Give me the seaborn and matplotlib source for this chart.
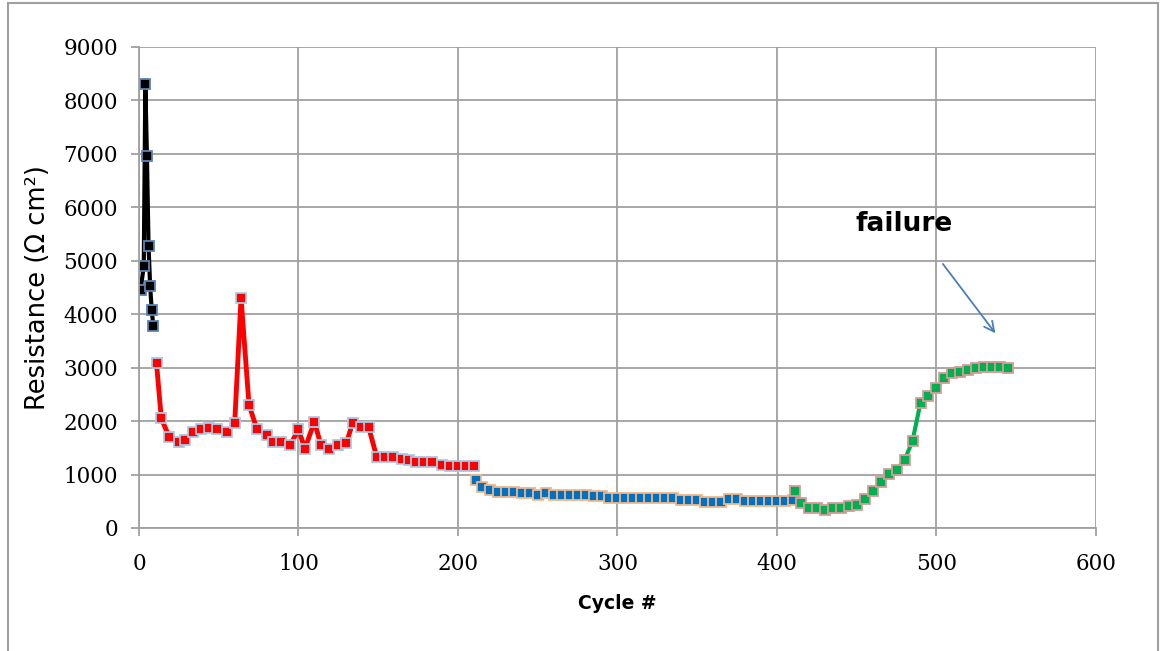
import numpy as np
import pandas as pd
import matplotlib
matplotlib.use('Agg')
import matplotlib.pyplot as plt
import seaborn as sns
from matplotlib.patches import Rectangle


# data
black_x = [1, 3, 4, 5, 6, 7, 8, 9]
black_y = [4450, 4900, 8300, 6950, 5280, 4520, 4080, 3770]

red_x = [11, 14, 19, 25, 29, 34, 39, 44, 49, 55, 60, 64, 69, 74, 80, 84, 89, 95, 100, 104,
         110, 114, 119, 125, 130, 134, 139, 144, 149, 154, 159, 165, 169, 174, 179, 184,
         190, 195, 200, 205, 210]
red_y = [3080, 2050, 1700, 1600, 1650, 1800, 1845, 1875, 1845, 1790, 1960, 4300, 2300, 1845,
         1740, 1600, 1600, 1555, 1850, 1480, 1990, 1555, 1470, 1555, 1585, 1970, 1895, 1885,
         1335, 1335, 1335, 1290, 1270, 1240, 1240, 1240, 1180, 1165, 1160, 1160, 1150]

blue_x = [211, 215, 220, 225, 230, 235, 240, 245, 250, 255, 260, 265, 270, 275, 280, 285,
          290, 295, 300, 305, 310, 315, 320, 325, 330, 335, 340, 345, 350, 355, 360, 365,
          370, 375, 380, 385, 390, 395, 400, 405, 410]
blue_y = [900, 770, 710, 680, 680, 680, 650, 650, 620, 660, 620, 620, 620, 620, 620, 590,
          590, 560, 560, 560, 560, 560, 560, 560, 555, 555, 525, 525, 525, 495, 495, 495,
          535, 535, 510, 510, 510, 510, 510, 510, 530]

green_x = [411, 415, 420, 425, 430, 435, 440, 445, 450, 455, 460, 465, 470, 475, 480, 485,
           490, 495, 500, 505, 510, 515, 520, 525, 530, 535, 540, 545]
green_y = [700, 470, 370, 370, 340, 365, 370, 410, 430, 540, 690, 860, 1010, 1085, 1270, 1630,
           2345, 2470, 2610, 2810, 2905, 2925, 2955, 2990, 3005, 3020, 3020, 2990]

x_ticks = [0, 100, 200, 300, 400, 500, 600]
y_ticks = [0, 1000, 2000, 3000, 4000, 5000, 6000, 7000, 8000, 9000]


sns.set_style('white')
plt.rcParams['text.color'] = 'black'
plt.rcParams['xtick.color'] = 'black'
plt.rcParams['ytick.color'] = 'black'

fig = plt.figure(figsize=(11.6, 6.51), dpi=100)
ax = fig.add_axes([0.1198, 0.189, 0.825, 0.739])

segments = [
    (black_x, black_y, 'black', 'black', '#5b83b5', 3),
    (red_x, red_y, '#ff0000', '#ff0000', '#a9cbe6', 3.5),
    (blue_x, blue_y, '#0070c0', '#0070c0', '#f0b88a', 1.5),
    (green_x, green_y, '#00b050', '#00b050', '#d99a9a', 3),
]
for xs, ys, lc, mc, ec, lw in segments:
    df = pd.DataFrame({'cycle': xs, 'res': ys})
    sns.lineplot(data=df, x='cycle', y='res', ax=ax, sort=False, estimator=None,
                 color=lc, linewidth=lw, marker='s', markersize=7.5,
                 markerfacecolor=mc, markeredgecolor=ec, markeredgewidth=1.3)

ax.set_xlim(0, 600)
ax.set_ylim(0, 9000)
ax.set_xticks(x_ticks)
ax.set_yticks(y_ticks)
ax.grid(True, color='#a0a0a0', linewidth=1.3)
ax.set_axisbelow(True)
for s in ['top', 'right']:
    ax.spines[s].set_visible(False)
for s in ['left', 'bottom']:
    ax.spines[s].set_color('#a0a0a0')
    ax.spines[s].set_linewidth(1.3)
ax.tick_params(axis='both', which='both', direction='out', length=6, color='#a0a0a0',
               width=1.3, labelsize=15.5, left=True, bottom=True, labelcolor='black')
for lab in ax.get_xticklabels() + ax.get_yticklabels():
    lab.set_fontfamily('DejaVu Serif')
ax.tick_params(axis='x', pad=12)
ax.tick_params(axis='y', pad=9)

ax.set_xlabel('Cycle #', fontsize=13.5, fontweight='bold', color='black')
ax.xaxis.set_label_coords(0.5, -0.158)
ax.xaxis.label.set_verticalalignment('center')
ax.set_ylabel('Resistance (Ω cm²)', fontsize=18.5, color='black')
ax.yaxis.set_label_coords(-0.105, 0.5)
ax.yaxis.label.set_verticalalignment('center')

ax.text(480, 5680, 'failure', fontsize=19, fontweight='bold', ha='center', va='center',
        color='black')
ax.annotate('', xy=(538, 3600), xytext=(503, 4980),
            arrowprops=dict(arrowstyle='->', color='#4a7ebb', lw=1.3, mutation_scale=18))

fig.patches.append(Rectangle((0.007, -0.05), 0.991, 1.045, transform=fig.transFigure,
                             fill=False, edgecolor='#a0a0a0', linewidth=1.5))

fig.savefig('out.png', dpi=100)
